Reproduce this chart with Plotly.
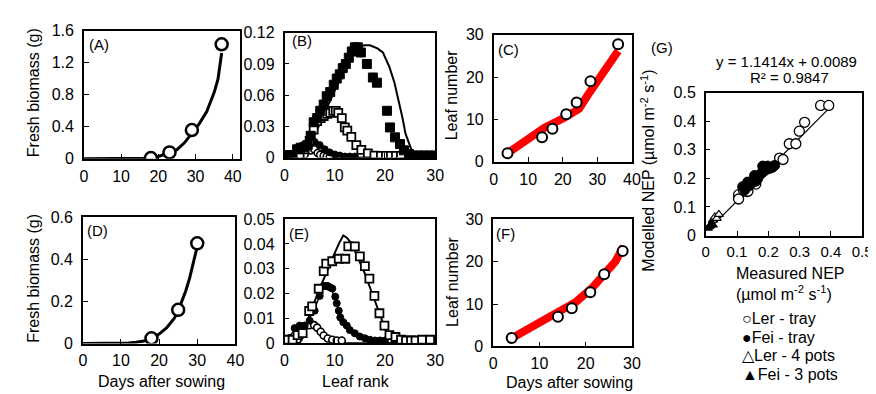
import plotly.graph_objects as go

FONT = "Arial, Liberation Sans, sans-serif"
W, H = 876, 394

# ---------------- data ----------------
# (A) fresh biomass, Ler
A_line_days = [0, 5, 10, 14, 16, 18, 20, 22, 23, 25, 27, 29, 30, 31, 33, 34, 35, 36, 37]
A_line_mass = [0, 0, 0.001, 0.004, 0.008, 0.015, 0.03, 0.06, 0.08, 0.115, 0.2, 0.32, 0.37, 0.44, 0.59, 0.7, 0.83, 0.99, 1.32]
A_obs_days = [18, 23, 29, 37]
A_obs_mass = [0.01, 0.08, 0.36, 1.43]

# (D) fresh biomass, Fei
D_line_days = [0, 5, 10, 12, 14, 16, 18, 20, 22, 24, 25, 26, 27, 28, 29, 30]
D_line_mass = [0, 0, 0.001, 0.003, 0.006, 0.012, 0.025, 0.045, 0.075, 0.12, 0.155, 0.2, 0.25, 0.31, 0.39, 0.46]
D_obs_days = [18, 25, 30]
D_obs_mass = [0.025, 0.16, 0.475]

# (B) leaf rank profiles, Ler (4 dates)
B_oc_rank = [1, 2, 3, 4, 5.2, 5.9, 6.6, 7.1, 7.8, 8.4, 9]
B_oc_val = [0.001, 0.001, 0.002, 0.003, 0.0068, 0.008, 0.0044, 0.0028, 0.0019, 0.0012, 0.001]
B_oc_line_rank = [0, 2, 3, 4, 5, 6, 7, 8, 9, 10, 30]
B_oc_line_val = [0, 0.001, 0.002, 0.004, 0.006, 0.007, 0.005, 0.003, 0.001, 0, 0]

B_fc_rank = [1, 2, 3, 4, 5, 6, 7, 8, 9, 10, 11, 12, 13, 14]
B_fc_val = [0.002, 0.004, 0.009, 0.013, 0.016, 0.015, 0.012, 0.008, 0.005, 0.003, 0.002, 0.001, 0.001, 0.001]
B_fc_line_rank = [0, 1, 2, 3, 4, 5, 6, 7, 8, 9, 10, 11, 12, 30]
B_fc_line_val = [0, 0.001, 0.004, 0.009, 0.013, 0.016, 0.015, 0.012, 0.008, 0.005, 0.003, 0.001, 0, 0]

B_os_rank = [3, 4, 5, 5.8, 6.5, 7.2, 7.8, 8.5, 9.1, 9.7, 10.2, 10.7, 11.4, 12.0, 12.5, 13.3, 14.3, 15.3, 16.6, 17.9, 19.2, 20.2, 21.2, 22.2, 23.2]
B_os_val = [0.003, 0.008, 0.016, 0.027, 0.035, 0.038, 0.040, 0.042, 0.043, 0.045, 0.045, 0.043, 0.038, 0.029, 0.026, 0.020, 0.012, 0.0074, 0.004, 0.002, 0.0016, 0.0016, 0.0016, 0.0016, 0.0016]
B_os_line_rank = [0, 2, 3, 4, 5, 6, 7, 8, 9, 10, 11, 12, 13, 14, 15, 16, 17, 18, 20, 30]
B_os_line_val = [0, 0.001, 0.003, 0.008, 0.016, 0.026, 0.034, 0.04, 0.044, 0.046, 0.042, 0.032, 0.022, 0.013, 0.007, 0.003, 0.001, 0, 0, 0]

B_fs_rank = [0.7, 1.6, 2.5, 3.2, 3.9, 4.6, 5.2, 5.8, 6.5, 7.1, 7.8, 8.4, 9.1, 9.8, 10.4, 11.0, 11.6, 12.2, 12.8, 13.4, 14.0, 14.6, 15.2, 16.4, 17.6, 18.4, 20.4, 21.0, 22.0, 23.0, 23.8, 24.8, 25.8, 26.8, 27.8, 28.8, 29.8]
B_fs_val = [0.0025, 0.0025, 0.008, 0.0095, 0.010, 0.012, 0.021, 0.034, 0.038, 0.045, 0.051, 0.059, 0.063, 0.070, 0.076, 0.080, 0.086, 0.090, 0.096, 0.102, 0.106, 0.106, 0.101, 0.090, 0.077, 0.072, 0.045, 0.029, 0.0195, 0.013, 0.007, 0.0034, 0.002, 0.002, 0.002, 0.002, 0.002]
B_fs_line_rank = [0, 2, 3, 4, 5, 6, 7, 8, 9, 10, 11, 12, 13, 14, 15, 16, 17, 17.6, 18.5, 19.6, 20.9, 21.9, 22.8, 23.5, 24.1, 24.8, 25.4, 26.1, 27, 30]
B_fs_line_val = [0, 0.001, 0.003, 0.007, 0.013, 0.022, 0.032, 0.043, 0.054, 0.065, 0.076, 0.086, 0.095, 0.102, 0.107, 0.108, 0.108, 0.107, 0.105, 0.101, 0.087, 0.072, 0.054, 0.038, 0.023, 0.013, 0.006, 0.002, 0, 0]

# (E) leaf rank profiles, Fei (3 dates)
E_oc_rank = [1, 2, 3, 4, 5, 5.9, 6.5, 7.2, 7.8, 8.6, 9.5, 10.4, 11.4]
E_oc_val = [0.001, 0.003, 0.006, 0.0068, 0.0072, 0.0072, 0.0062, 0.0045, 0.003, 0.0018, 0.0013, 0.001, 0.001]
E_oc_line_rank = [0, 2, 3, 4, 5, 6, 7, 8, 9, 10, 30]
E_oc_line_val = [0, 0.002, 0.005, 0.0065, 0.007, 0.006, 0.004, 0.002, 0.001, 0, 0]

E_fc_rank = [1, 2, 3, 4, 5, 6, 7, 7.8, 8.2, 8.6, 9.0, 9.5, 10.1, 10.4, 10.8, 11.1, 11.7, 12.4, 13.0, 14.0, 15.0, 16.0, 17.0, 18.0, 19.0, 20.0]
E_fc_val = [0.002, 0.006, 0.007, 0.007, 0.009, 0.013, 0.019, 0.023, 0.023, 0.023, 0.0225, 0.022, 0.0187, 0.016, 0.013, 0.0103, 0.0084, 0.007, 0.0052, 0.0039, 0.0026, 0.0019, 0.0013, 0.001, 0.001, 0.001]
E_fc_line_rank = [0, 2, 3.6, 5, 6, 7, 7.5, 8.5, 9.5, 10.4, 11.7, 13.7, 15.7, 18.3, 30]
E_fc_line_val = [0, 0.002, 0.006, 0.01, 0.014, 0.019, 0.0225, 0.023, 0.021, 0.016, 0.0084, 0.0032, 0.0013, 0, 0]

E_os_rank = [0.7, 1.6, 2.6, 3.6, 4.9, 5.5, 6.8, 7.8, 8.3, 9.5, 10.8, 12.1, 12.7, 14.0, 15.0, 16.0, 16.9, 17.9, 18.9, 19.9, 20.9, 22.1, 23.2, 24.2, 25.2, 26.1, 27.4, 29.0]
E_os_val = [0.0013, 0.0013, 0.0032, 0.004, 0.0129, 0.0148, 0.0219, 0.029, 0.032, 0.033, 0.034, 0.034, 0.039, 0.039, 0.035, 0.031, 0.026, 0.019, 0.012, 0.007, 0.0032, 0.0024, 0.0013, 0.001, 0.001, 0.001, 0.0013, 0.0013]
E_os_line_rank = [0, 3, 3.6, 4.9, 6.8, 8.2, 9.5, 10.8, 11.7, 12.4, 13.4, 14.7, 16, 17, 18.3, 19.6, 20.5, 21.5, 22.8, 30]
E_os_line_val = [0, 0, 0.002, 0.011, 0.021, 0.028, 0.034, 0.04, 0.0434, 0.0425, 0.04, 0.034, 0.028, 0.0225, 0.0155, 0.0084, 0.0032, 0.001, 0, 0]

# (C) / (F) leaf number
C_obs_days = [4, 14, 17, 21, 24, 28, 36]
C_obs_leaves = [2, 5.8, 7.8, 11.2, 14, 19, 27.8]
C_mod_days = [4, 10, 14.6, 20.4, 24.7, 27.1, 31, 36]
C_mod_leaves = [2, 5.3, 8, 10.4, 12.5, 15.6, 20.1, 26.2]

F_obs_days = [4, 14, 17, 21, 24, 28]
F_obs_leaves = [2, 7, 9, 12.8, 17, 22.5]
F_mod_days = [4, 10, 14.4, 17.9, 21.5, 24.3, 26.4, 28.2]
F_mod_leaves = [1.9, 5.7, 8.3, 10.5, 13.9, 17.3, 20, 23.6]

# (G) modelled vs measured NEP
G_ler_tray_x = [0.105, 0.105, 0.12, 0.131, 0.135, 0.16, 0.236, 0.247, 0.267, 0.288, 0.299, 0.316, 0.367, 0.393]
G_ler_tray_y = [0.143, 0.128, 0.16, 0.154, 0.155, 0.18, 0.271, 0.266, 0.321, 0.321, 0.365, 0.396, 0.455, 0.455]
G_fei_tray_x = [0.118, 0.125, 0.134, 0.14, 0.145, 0.156, 0.16, 0.166, 0.175, 0.18, 0.182, 0.19, 0.198, 0.205, 0.209, 0.215, 0.22]
G_fei_tray_y = [0.171, 0.16, 0.187, 0.175, 0.182, 0.21, 0.19, 0.199, 0.215, 0.22, 0.243, 0.228, 0.243, 0.235, 0.238, 0.24, 0.245]
G_ler_pots_x = [0.023, 0.029, 0.035, 0.042]
G_ler_pots_y = [0.054, 0.065, 0.06, 0.074]
G_fei_pots_x = [0.007, 0.011, 0.015, 0.018, 0.023]
G_fei_pots_y = [0.026, 0.031, 0.035, 0.042, 0.037]
G_fit_x = [0.01, 0.405]
G_fit_y = [0.022, 0.457]

# ---------------- figure ----------------
fig = go.Figure()


def ax_ids(i):
    return ("x" if i == 1 else f"x{i}"), ("y" if i == 1 else f"y{i}")


def line(i, x, y, color="black", width=1.5):
    xa, ya = ax_ids(i)
    fig.add_trace(go.Scatter(x=x, y=y, xaxis=xa, yaxis=ya, mode="lines",
                             line=dict(color=color, width=width), showlegend=False,
                             hoverinfo="skip"))


def pts(i, x, y, symbol="circle", filled=False, size=9, lw=1.8):
    xa, ya = ax_ids(i)
    fig.add_trace(go.Scatter(x=x, y=y, xaxis=xa, yaxis=ya, mode="markers",
                             marker=dict(symbol=symbol, size=size,
                                         color="black" if filled else "white",
                                         line=dict(color="black", width=lw)),
                             showlegend=False))


# A
line(1, A_line_days, A_line_mass, width=3)
pts(1, A_obs_days, A_obs_mass, size=12, lw=2.5)
# D
line(4, D_line_days, D_line_mass, width=3)
pts(4, D_obs_days, D_obs_mass, size=12, lw=2.5)
# B
line(2, B_oc_line_rank, B_oc_line_val, width=1.5)
line(2, B_fc_line_rank, B_fc_line_val, width=1.5)
line(2, B_os_line_rank, B_os_line_val, width=1.5)
line(2, B_fs_line_rank, B_fs_line_val, width=2)
pts(2, B_oc_rank, B_oc_val, size=7, lw=1.6)
pts(2, B_fc_rank, B_fc_val, filled=True, size=7, lw=1)
pts(2, B_os_rank, B_os_val, symbol="square", size=8, lw=1.8)
pts(2, B_fs_rank, B_fs_val, symbol="square", filled=True, size=9, lw=1)
# E
line(5, E_oc_line_rank, E_oc_line_val, width=1.5)
line(5, E_fc_line_rank, E_fc_line_val, width=1.5)
line(5, E_os_line_rank, E_os_line_val, width=2)
pts(5, E_oc_rank, E_oc_val, size=7, lw=1.6)
pts(5, E_fc_rank, E_fc_val, filled=True, size=7, lw=1)
pts(5, E_os_rank, E_os_val, symbol="square", size=8, lw=1.8)
# C
line(3, C_mod_days, C_mod_leaves, color="#ff0000", width=8)
pts(3, C_obs_days, C_obs_leaves, size=10, lw=2)
# F
line(6, F_mod_days, F_mod_leaves, color="#ff0000", width=8)
pts(6, F_obs_days, F_obs_leaves, size=10, lw=2)
# G
line(7, G_fit_x, G_fit_y, width=1.2)
pts(7, G_ler_tray_x, G_ler_tray_y, size=10, lw=1.3)
pts(7, G_fei_tray_x, G_fei_tray_y, filled=True, size=10, lw=1)
pts(7, G_ler_pots_x, G_ler_pots_y, symbol="triangle-up", size=8, lw=1.2)
pts(7, G_fei_pots_x, G_fei_pots_y, symbol="triangle-up", filled=True, size=8, lw=1)

# ---------------- axes ----------------
boxes = {
    1: (73, 232, 15.3, 149.3),
    2: (277, 430, 17.5, 148.0),
    3: (489.5, 630, 19.7, 152.3),
    4: (72, 227, 210.0, 342.3),
    5: (277, 430, 212.3, 341.7),
    6: (489, 630, 212.4, 345.3),
    7: (705, 864, 80.0, 229.5),
}
xranges = {1: [0, 42], 2: [0, 30], 3: [0, 40], 4: [0, 40], 5: [0, 30], 6: [0, 30], 7: [0, 0.5]}
xticks = {1: [0, 10, 20, 30, 40], 2: [0, 10, 20, 30], 3: [0, 10, 20, 30, 40], 4: [0, 10, 20, 30, 40],
          5: [0, 10, 20, 30], 6: [0, 10, 20, 30], 7: [0, 0.1, 0.2, 0.3, 0.4, 0.5]}
yranges = {1: [0, 1.6], 2: [0, 0.12], 3: [0, 30], 4: [0, 0.6], 5: [0, 0.05], 6: [0, 30], 7: [0, 0.5]}
yticks = {1: [0, 0.4, 0.8, 1.2, 1.6], 2: [0, 0.03, 0.06, 0.09, 0.12], 3: [0, 10, 20, 30],
          4: [0, 0.2, 0.4, 0.6], 5: [0, 0.01, 0.02, 0.03, 0.04, 0.05], 6: [0, 10, 20, 30],
          7: [0, 0.1, 0.2, 0.3, 0.4, 0.5]}

common = dict(showline=True, linecolor="black", linewidth=1.5, mirror=True,
              ticks="inside", ticklen=5, tickwidth=1.2, tickcolor="black",
              showgrid=False, zeroline=False,
              tickfont=dict(family=FONT, size=16, color="black"))

layout_axes = {}
for i, (l, r, t, b) in boxes.items():
    xa, ya = ax_ids(i)
    xkey = "xaxis" if i == 1 else f"xaxis{i}"
    ykey = "yaxis" if i == 1 else f"yaxis{i}"
    layout_axes[xkey] = dict(common, domain=[l / W, r / W], range=xranges[i], anchor=ya,
                             tickmode="array", tickvals=xticks[i],
                             ticktext=[f"{v:g}" for v in xticks[i]], ticklabelstandoff=2)
    layout_axes[ykey] = dict(common, domain=[1 - b / H, 1 - t / H], range=yranges[i], anchor=xa,
                             tickmode="array", tickvals=yticks[i],
                             ticktext=[f"{v:g}" for v in yticks[i]], ticklabelstandoff=5)
layout_axes["xaxis7"]["tickfont"] = dict(family=FONT, size=15, color="black")


def ann(text, px, py, size=16, angle=0, xanchor="center"):
    return dict(text=text, x=px / W, y=1 - py / H, xref="paper", yref="paper",
                showarrow=False, textangle=angle, xanchor=xanchor, yanchor="middle",
                font=dict(family=FONT, size=size, color="black"))


annotations = [
    ann("(A)", 88, 30, 15), ann("(B)", 295, 26, 15), ann("(C)", 505, 35, 15),
    ann("(D)", 87, 224, 15), ann("(E)", 292, 227, 15), ann("(F)", 502, 227, 15),
    ann("(G)", 661, 33, 15),
    ann("Fresh biomass (g)", 22, 80, 16, -90),
    ann("Fresh biomass (g)", 22, 274, 16, -90),
    ann("Leaf number", 447, 82, 16, -90),
    ann("Leaf number", 447, 277, 16, -90),
    ann("Days after sowing", 152, 382, 16),
    ann("Leaf rank", 350, 382, 16),
    ann("Days after sowing", 567, 383, 16),
    ann("Modelled NEP (µmol m<sup>-2</sup> s<sup>-1</sup>)", 646, 162, 16, -90),
    ann("y = 1.1414x + 0.0089", 787, 48, 15),
    ann("R² = 0.9847", 790, 64, 15),
    ann("Measured NEP", 791, 269, 16),
    ann("(µmol m<sup>-2</sup> s<sup>-1</sup>)", 785, 289, 16),
    ann("○Ler - tray", 740, 316, 16, xanchor="left"),
    ann("●Fei - tray", 740, 336, 16, xanchor="left"),
    ann("△Ler - 4 pots", 740, 355, 16, xanchor="left"),
    ann("▲Fei - 3 pots", 740, 375, 16, xanchor="left"),
]

fig.update_layout(width=W, height=H, margin=dict(l=0, r=0, t=0, b=0),
                  paper_bgcolor="white", plot_bgcolor="white",
                  font=dict(family=FONT, color="black"),
                  annotations=annotations, **layout_axes)

fig.write_html("out.html")
